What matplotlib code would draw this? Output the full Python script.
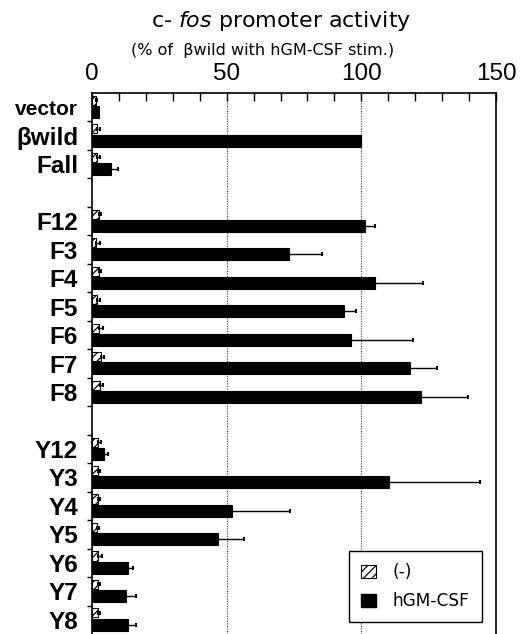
import numpy as np
import matplotlib
matplotlib.use("Agg")
import matplotlib.pyplot as plt
from matplotlib.patches import Patch

plt.rcParams['font.family'] = ['Liberation Sans', 'DejaVu Sans']
plt.rcParams['mathtext.fontset'] = 'custom'
plt.rcParams['mathtext.rm'] = 'DejaVu Sans'
plt.rcParams['mathtext.it'] = 'DejaVu Sans:italic'
plt.rcParams['hatch.linewidth'] = 0.9

# Row labels (None = spacer row between groups)
labels = ["vector", "βwild", "Fall", None,
          "F12", "F3", "F4", "F5", "F6", "F7", "F8", None,
          "Y12", "Y3", "Y4", "Y5", "Y6", "Y7", "Y8"]

# Unstimulated (-) activity and SD, % of βwild + hGM-CSF
unstim = [1.5, 1.7, 2.0, None,
          2.5, 1.5, 2.5, 2.0, 2.5, 3.5, 3.0, None,
          2.3, 2.3, 2.3, 1.7, 2.3, 2.3, 2.3]
unstim_err = [0.5, 1.3, 1.0, None,
              1.0, 1.5, 1.0, 1.0, 1.5, 1.0, 1.0, None,
              1.2, 0.7, 0.7, 1.0, 1.4, 0.7, 0.7]

# hGM-CSF stimulated activity and SD
stim = [2.5, 100.0, 7.0, None,
        101.5, 73.0, 105.0, 93.7, 96.3, 118.0, 122.0, None,
        4.5, 110.4, 52.0, 46.7, 13.3, 12.5, 13.3]
stim_err = [0.0, 0.0, 2.5, None,
            3.5, 12.5, 18.0, 4.5, 22.7, 10.0, 17.5, None,
            1.5, 33.6, 21.6, 9.8, 2.0, 3.7, 3.0]

xticks_major = [0, 50, 100, 150]

W, H = 521, 634
fig = plt.figure(figsize=(W / 100, H / 100), dpi=100)
ax = fig.add_axes([92 / W, 0.0, (496 - 92) / W, (634 - 93) / H])

rows = [i for i, lab in enumerate(labels) if lab is not None]
y = np.array(rows, dtype=float)
u = np.array([unstim[i] for i in rows])
ue = np.array([unstim_err[i] for i in rows])
s = np.array([stim[i] for i in rows])
se = np.array([stim_err[i] for i in rows])

h_u, h_s = 0.32, 0.42
off_u, off_s = -0.24, 0.17

ax.barh(y + off_u, u, height=h_u, color='white', edgecolor='black',
        hatch='////', linewidth=0.8, zorder=3)
ax.barh(y + off_s, s, height=h_s, color='black', edgecolor='black',
        linewidth=0.8, zorder=3)

ax.errorbar(u, y + off_u, xerr=[np.zeros_like(ue), ue], fmt='none',
            ecolor='black', elinewidth=1.0, capsize=1.6, capthick=1.5, zorder=4)
mask = se > 0
ax.errorbar(s[mask], (y + off_s)[mask], xerr=[np.zeros(mask.sum()), se[mask]],
            fmt='none', ecolor='black', elinewidth=1.0, capsize=1.6,
            capthick=1.5, zorder=4)

# Dotted reference lines
for gx in (50, 100):
    ax.axvline(gx, color='0.35', linestyle=(0, (1, 1)), linewidth=0.9, zorder=1)

ax.set_xlim(0, 150)
ax.set_ylim(len(labels) - 0.5, -0.5)

# Top axis
ax.xaxis.set_ticks_position('top')
ax.xaxis.set_label_position('top')
ax.set_xticks(xticks_major)
ax.set_xticks(np.arange(0, 151, 10), minor=True)
ax.tick_params(axis='x', which='both', direction='in', length=5.5, width=1.0,
               labelsize=17.5, pad=6)

# Row labels at row centres, ticks at row boundaries
ax.set_yticks(rows)
ax.set_yticklabels([labels[i] for i in rows], fontweight='bold', fontsize=17.5)
for t, lab in zip(ax.get_yticklabels(), [labels[i] for i in rows]):
    if lab == "vector":
        t.set_fontsize(15)
ax.set_yticks(np.arange(0.5, len(labels) - 0.5, 1.0), minor=True)
ax.tick_params(axis='y', which='major', length=0, pad=10)
ax.tick_params(axis='y', which='minor', direction='out', length=3.5, width=1.0)

for side in ('top', 'left', 'right'):
    ax.spines[side].set_linewidth(1.2)
ax.spines['bottom'].set_visible(False)

# Titles
fig.text(281 / W, 1 - 27 / H, r"c- $\it{fos}$ promoter activity",
         ha='center', va='baseline', fontsize=15.9, family='DejaVu Sans')
fig.text(262.5 / W, 1 - 55 / H, "(% of  βwild with hGM-CSF stim.)",
         ha='center', va='baseline', fontsize=11.5, family='DejaVu Sans')

handles = [Patch(facecolor='white', edgecolor='black', hatch='////',
                 linewidth=0.8, label='(-)'),
           Patch(facecolor='black', edgecolor='black', label='hGM-CSF')]
leg = ax.legend(handles=handles, loc='lower left',
                bbox_to_anchor=(0.636, 0.022),
                prop={'family': 'DejaVu Sans', 'size': 12.2},
                frameon=True, fancybox=False, framealpha=1,
                edgecolor='black', handlelength=0.9, handleheight=0.8,
                handletextpad=1.0, labelspacing=0.65, borderpad=0.7,
                borderaxespad=0)
leg.get_frame().set_linewidth(1.0)
leg.set_zorder(5)

fig.savefig("out.png", dpi=100)
